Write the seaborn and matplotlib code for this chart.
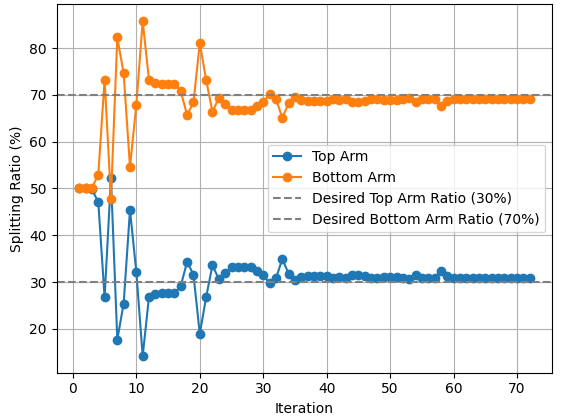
import matplotlib
matplotlib.use("Agg")
import matplotlib.pyplot as plt
import seaborn as sns
import pandas as pd

iterations = list(range(1, 73))
top_arm = [50.0, 50.0, 49.8, 47.1, 26.7, 52.2, 17.7, 25.4, 45.4, 32.1,
           14.2, 26.9, 27.5, 27.6, 27.6, 27.6, 29.2, 34.3, 31.6, 18.9,
           26.8, 33.6, 30.6, 31.9, 33.2, 33.2, 33.2, 33.2, 32.3, 31.6,
           29.7, 30.8, 34.9, 31.8, 30.4, 31.0, 31.2, 31.3, 31.2, 31.2,
           30.9, 31.0, 30.9, 31.5, 31.5, 31.2, 30.8, 30.9, 31.0, 31.0,
           31.0, 30.9, 30.6, 31.5, 30.9, 30.9, 30.9, 32.4, 31.2, 30.9,
           30.9, 30.9, 30.9, 30.9, 30.9, 30.9, 30.9, 30.9, 30.9, 30.9,
           30.9, 30.9]
bottom_arm = [50.0, 50.0, 50.2, 52.9, 73.3, 47.8, 82.3, 74.6, 54.6, 67.9,
              85.8, 73.1, 72.5, 72.4, 72.4, 72.4, 70.8, 65.7, 68.4, 81.1,
              73.2, 66.4, 69.4, 68.1, 66.8, 66.8, 66.8, 66.8, 67.7, 68.4,
              70.3, 69.2, 65.1, 68.2, 69.6, 69.0, 68.8, 68.7, 68.8, 68.8,
              69.1, 69.0, 69.1, 68.5, 68.5, 68.8, 69.2, 69.1, 69.0, 69.0,
              69.0, 69.1, 69.4, 68.5, 69.1, 69.1, 69.1, 67.6, 68.8, 69.1,
              69.1, 69.1, 69.1, 69.1, 69.1, 69.1, 69.1, 69.1, 69.1, 69.1,
              69.1, 69.1]
desired_top = 30
desired_bottom = 70

df = pd.DataFrame({"Iteration": iterations, "Top": top_arm, "Bottom": bottom_arm})

fig = plt.figure(figsize=(5.65, 4.17), dpi=100)
ax = fig.add_axes([56.7 / 565, 1 - 372.7 / 417, (552.3 - 56.7) / 565, (372.7 - 4.3) / 417])

sns.lineplot(data=df, x="Iteration", y="Top", ax=ax, color="#1f77b4", marker="o",
             markersize=6, markeredgecolor="#1f77b4", markeredgewidth=1.0,
             linewidth=1.5, label="Top Arm")
sns.lineplot(data=df, x="Iteration", y="Bottom", ax=ax, color="#ff7f0e", marker="o",
             markersize=6, markeredgecolor="#ff7f0e", markeredgewidth=1.0,
             linewidth=1.5, label="Bottom Arm")
ax.axhline(desired_top, color="gray", linestyle="--", linewidth=1.5,
           label="Desired Top Arm Ratio (30%)")
ax.axhline(desired_bottom, color="gray", linestyle="--", linewidth=1.5,
           label="Desired Bottom Arm Ratio (70%)")

ax.set_xlabel("Iteration")
ax.set_ylabel("Splitting Ratio (%)")
ax.grid(True)
ax.legend(loc="center right")

fig.savefig("out.png", dpi=100)
